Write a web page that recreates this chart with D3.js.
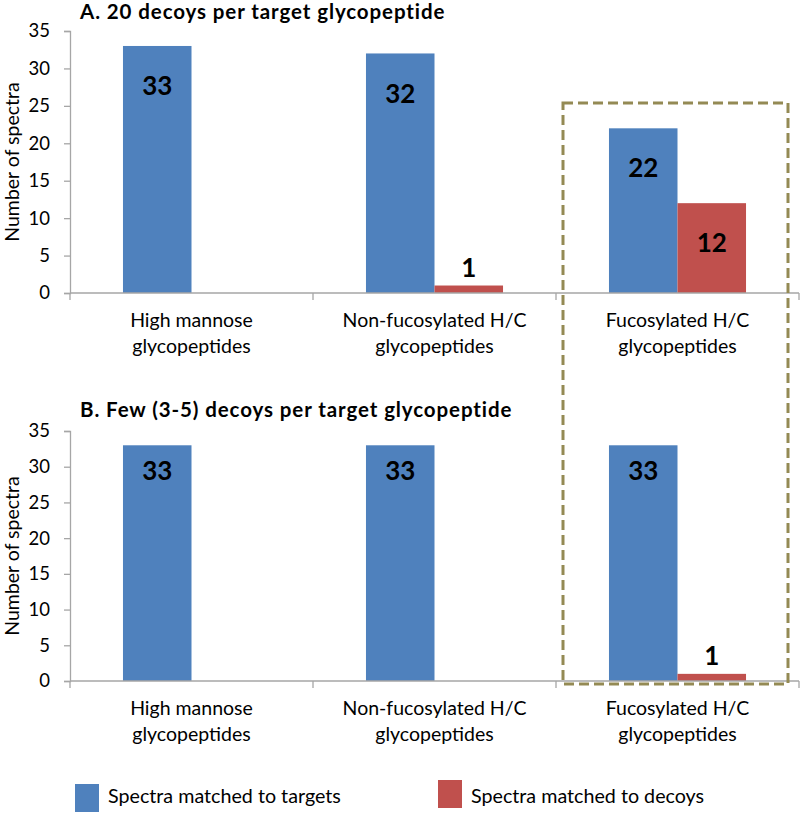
<!DOCTYPE html>
<html><head><meta charset="utf-8">
<script src="https://cdn.jsdelivr.net/npm/d3@7"></script>
<style>
body{margin:0;background:#fff;}
svg{display:block;font-family:Lato,"Open Sans",sans-serif;}
</style></head>
<body>
<svg id="c" width="800" height="813"></svg>
<script>
const categories = [["High mannose","glycopeptides"],["Non-fucosylated H/C","glycopeptides"],["Fucosylated H/C","glycopeptides"]];
const seriesNames = ["Spectra matched to targets","Spectra matched to decoys"];
const seriesColors = ["#4f81bd","#c0504d"];
const panelTitles = ["A. 20 decoys per target glycopeptide","B. Few (3-5) decoys per target glycopeptide"];
const targetsA = [33, 32, 22];
const decoysA  = [0, 1, 12];
const targetsB = [33, 33, 33];
const decoysB  = [0, 0, 1];
const yTicks = [0,5,10,15,20,25,30,35];
const yTitle = "Number of spectra";

const svg = d3.select("#c");
const catKeys = categories.map(c=>c.join(" "));
const x0 = d3.scaleBand().domain(catKeys).range([70, 799]).padding(0);
const bw = x0.bandwidth();
const x1 = d3.scaleBand().domain([0,1]).range([bw*0.218, bw*(1-0.218)]).padding(0);

const panels = [
  {title:panelTitles[0], vals:[targetsA, decoysA], top:31, bottom:293, titleY:19, labelOff:40},
  {title:panelTitles[1], vals:[targetsB, decoysB], top:431, bottom:681, titleY:417, labelOff:26}
];
const axisColor = "#a6a6a6";

panels.forEach(p=>{
  const g = svg.append("g");
  const y = d3.scaleLinear().domain([0,35]).range([p.bottom, p.top]);
  g.append("text").attr("x",80).attr("y",p.titleY).attr("font-weight","bold").attr("font-size",20.5).attr("letter-spacing",0.9).attr("fill","#000").text(p.title);
  // y axis
  const ya = g.append("g").attr("transform","translate(70,0)").call(d3.axisLeft(y).tickValues(yTicks).tickSize(6).tickPadding(14).tickFormat(d3.format("d")));
  ya.select(".domain").attr("stroke",axisColor).attr("stroke-width",1.3);
  ya.selectAll(".tick line").attr("stroke",axisColor).attr("stroke-width",1.3);
  ya.selectAll(".tick text").attr("font-size",18.5).attr("font-family","Lato,'Open Sans',sans-serif").attr("fill","#000");
  g.append("text").attr("transform",`translate(19,${(p.top+p.bottom)/2}) rotate(-90)`).attr("text-anchor","middle").attr("font-size",19.5).attr("fill","#000").text(yTitle);
  // bars
  const data = [];
  catKeys.forEach((c,i)=>{ [0,1].forEach(s=>data.push({c, s, v:p.vals[s][i]})); });
  g.selectAll("rect.bar").data(data.filter(d=>d.v>0)).join("rect").attr("class","bar")
    .attr("x",d=>x0(d.c)+x1(d.s)).attr("width",x1.bandwidth())
    .attr("y",d=>y(d.v)).attr("height",d=>y(0)-y(d.v)).attr("fill",d=>seriesColors[d.s]);
  g.selectAll("text.lbl").data(data.filter(d=>d.v>0)).join("text").attr("class","lbl")
    .attr("x",d=>x0(d.c)+x1(d.s)+x1.bandwidth()/2)
    .attr("y",d=> d.v>=5 ? y(d.v)+p.labelOff : y(d.v)-9)
    .attr("dy", d=> d.v>=5 ? "0.35em" : "0")
    .attr("text-anchor","middle").attr("font-weight","bold").attr("font-size",26).attr("fill","#000").text(d=>d.v);
  // x axis
  const xa = g.append("g").attr("transform",`translate(0,${p.bottom})`);
  xa.append("line").attr("x1",70).attr("x2",799).attr("stroke",axisColor).attr("stroke-width",1.3);
  const bounds = catKeys.map(c=>x0(c)).concat([x0(catKeys[2])+bw]);
  xa.selectAll("line.t").data(bounds).join("line").attr("class","t").attr("x1",d=>d).attr("x2",d=>d).attr("y1",0).attr("y2",7).attr("stroke",axisColor).attr("stroke-width",1.3);
  categories.forEach((lines,i)=>{
    const t = xa.append("text").attr("text-anchor","middle").attr("font-size",19.5).attr("fill","#000");
    lines.forEach((l,j)=>t.append("tspan").attr("x",x0(catKeys[i])+bw/2).attr("y",34+j*26).text(l));
  });
});

// dashed highlight box around third category
const cx = x0(catKeys[2]);
svg.append("rect").attr("x",cx+7).attr("y",103).attr("width",bw-18).attr("height",581)
  .attr("fill","none").attr("stroke","#948a54").attr("stroke-width",3).attr("stroke-dasharray","10,5");

// legend
const leg = svg.append("g");
const legX = [75, 438], legY=[784,780];
seriesNames.forEach((n,i)=>{
  leg.append("rect").attr("x",legX[i]).attr("y",legY[i]).attr("width",24).attr("height",28).attr("fill",seriesColors[i]);
  leg.append("text").attr("x",legX[i]+33).attr("y",796).attr("dy","0.35em").attr("font-size",19.7).attr("fill","#000").text(n);
});
</script>
</body></html>
